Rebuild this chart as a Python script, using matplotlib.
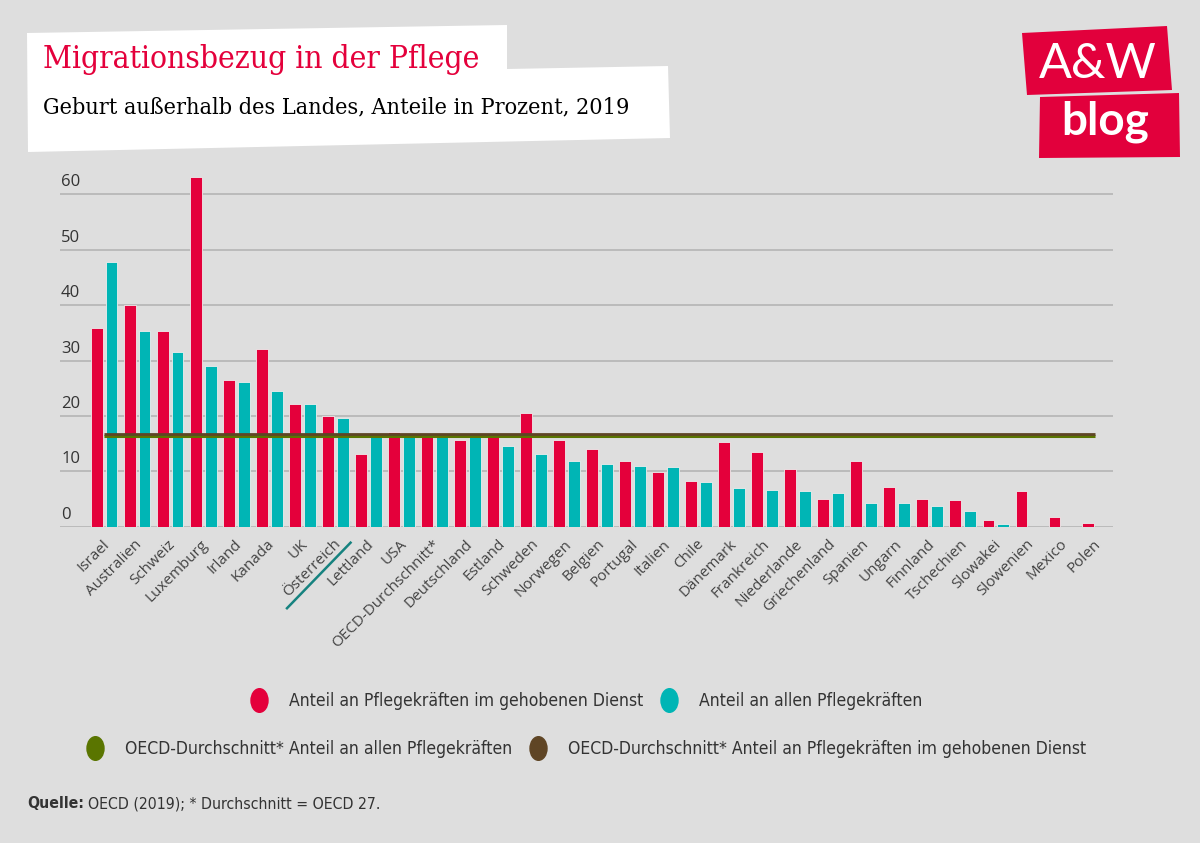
import matplotlib
matplotlib.use("Agg")
import matplotlib.pyplot as plt
import matplotlib.transforms as mtransforms
import numpy as np
from matplotlib import font_manager
from matplotlib.lines import Line2D
from matplotlib.patches import Polygon
from matplotlib.path import Path

# Daten
laender = ["Israel", "Australien", "Schweiz", "Luxemburg", "Irland", "Kanada", "UK",
           "Österreich", "Lettland", "USA", "OECD-Durchschnitt*", "Deutschland", "Estland",
           "Schweden", "Norwegen", "Belgien", "Portugal", "Italien", "Chile", "Dänemark",
           "Frankreich", "Niederlande", "Griechenland", "Spanien", "Ungarn", "Finnland",
           "Tschechien", "Slowakei", "Slowenien", "Mexico", "Polen"]
gehoben = [35.9, 40.0, 35.4, 63.1, 26.5, 32.1, 22.1, 19.9, 13.1, 17.1, 16.6, 15.6, 16.5,
           20.5, 15.6, 14.0, 11.9, 9.9, 8.3, 15.3, 13.5, 10.4, 5.0, 11.9, 7.2, 5.0,
           4.8, 1.2, 6.4, 1.8, 0.7]
alle = [47.8, 35.4, 31.6, 29.1, 26.2, 24.5, 22.1, 19.7, 16.2, 16.2, 16.3, 16.3, 14.6,
        13.1, 11.9, 11.3, 11.0, 10.7, 8.0, 6.9, 6.7, 6.4, 6.1, 4.2, 4.2, 3.7,
        2.8, 0.4, 0.0, 0.0, 0.0]
oecd_alle = 16.3
oecd_gehoben = 16.65
yticks = [0, 10, 20, 30, 40, 50, 60]

ROT = "#E4003B"
TEAL = "#00B5B5"
GRUEN = "#5A7500"
BRAUN = "#5F4525"
BG = "#DEDEDE"
TXT = "#333333"


def hat_condensed(fam):
    f = font_manager.findfont(font_manager.FontProperties(family=fam, stretch="condensed"))
    return "ondensed" in f


if hat_condensed("DejaVu Sans"):
    SANS = dict(family="DejaVu Sans", stretch="condensed")
else:
    SANS = dict(family="Liberation Sans")
if hat_condensed("DejaVu Serif"):
    SERIF = dict(family="DejaVu Serif", stretch="condensed")
else:
    SERIF = dict(family="DejaVu Serif")

W, H = 1200, 843
fig = plt.figure(figsize=(W / 100, H / 100), dpi=100, facecolor=BG)
fig.canvas.draw()
r = fig.canvas.get_renderer()


def px(x, y):
    return (x / W, 1 - y / H)


def passende_groesse(s, ziel_px, groesse=12, **kw):
    t = fig.text(0, 0, s, fontsize=groesse, **kw)
    w = t.get_window_extent(r).width
    t.remove()
    return groesse * ziel_px / w


ax = fig.add_axes([60 / W, 1 - 526.7 / H, 1053 / W, 365.6 / H])
ax.set_facecolor(BG)

x = np.arange(len(laender))
ax.bar(x - 0.225, gehoben, width=0.36, color=ROT, edgecolor="#EEEEEE", linewidth=0.6, zorder=3)
ax.bar(x + 0.225, alle, width=0.36, color=TEAL, edgecolor="#EEEEEE", linewidth=0.6, zorder=3)

ax.plot([x[0], x[-1]], [oecd_alle, oecd_alle], color=GRUEN, lw=2.2, solid_capstyle="butt", zorder=4)
ax.plot([x[0], x[-1]], [oecd_gehoben, oecd_gehoben], color=BRAUN, lw=2.0, solid_capstyle="butt", zorder=5)

ax.set_xlim(-1.333, len(laender) - 1 + 0.545)
ax.set_ylim(0, 66)
for s in ax.spines.values():
    s.set_visible(False)

ax.set_yticks(yticks)
ax.set_yticklabels([])
ax.tick_params(axis="y", length=0)
ax.grid(axis="y", color="#BBBBBB", linewidth=1.4, zorder=0)
ax.set_axisbelow(True)

# y-Beschriftung oberhalb der Gitterlinien
for v in yticks:
    ax.text(0.001, v + 0.7, str(v), transform=ax.get_yaxis_transform(), ha="left", va="bottom",
            fontsize=12, color=TXT, family="Open Sans")

ax.set_xticks(x)
ax.set_xticklabels(laender, family="Open Sans", fontsize=11, color="#444444")
ax.tick_params(axis="x", length=0, pad=11)
shift = mtransforms.ScaledTranslation(3 / 100, 0, fig.dpi_scale_trans)
for lbl in ax.get_xticklabels():
    lbl.set_rotation(45)
    lbl.set_ha("right")
    lbl.set_va("center")
    lbl.set_rotation_mode("anchor")
    lbl.set_transform(lbl.get_transform() + shift)

# Titelbox
fig.add_artist(Polygon([px(27, 33), px(507, 25), px(507, 69), px(668, 66), px(670, 138), px(28, 152)],
                       closed=True, transform=fig.transFigure, facecolor="white", edgecolor="none"))
titel = "Migrationsbezug in der Pflege"
untertitel = "Geburt außerhalb des Landes, Anteile in Prozent, 2019"
fig.text(*px(43, 68), titel, color=ROT, fontsize=passende_groesse(titel, 440, **SERIF),
         va="baseline", ha="left", **SERIF)
fig.text(*px(43, 113), untertitel, color="black", fontsize=passende_groesse(untertitel, 587, **SERIF),
         va="baseline", ha="left", **SERIF)

# Logo
fig.add_artist(Polygon([px(1022, 33), px(1167, 26), px(1172, 90), px(1027, 95)], closed=True,
                       transform=fig.transFigure, facecolor="#E2003C", edgecolor="none"))
fig.add_artist(Polygon([px(1040, 97), px(1179, 93), px(1180, 157), px(1039, 158)], closed=True,
                       transform=fig.transFigure, facecolor="#E2003C", edgecolor="none"))
fig.text(*px(1098, 64), "A&W", color="white", fontsize=35, family="Lato", weight="normal",
         ha="center", va="center")
fig.text(*px(1105, 122), "blog", color="white", fontsize=33, family="Lato", weight="bold",
         ha="center", va="center")

# Legende
ell = Path.unit_circle().transformed(mtransforms.Affine2D().scale(0.72, 1.0))


def handle(c):
    return Line2D([], [], marker=ell, linestyle="none", markersize=17,
                  markerfacecolor=c, markeredgecolor=c)


leg_size = passende_groesse("Anteil an Pflegekräften im gehobenen Dienst", 354, **SANS)
leg_font = font_manager.FontProperties(size=leg_size, **SANS)
em = leg_size * 100 / 72
leg_kw = dict(loc="center", ncol=2, frameon=False, prop=leg_font, handlelength=1.2,
              handletextpad=(30 - 0.6 * em) / em, columnspacing=(26 - 0.6 * em) / em)
leg1 = fig.legend([handle(ROT), handle(TEAL)],
                  ["Anteil an Pflegekräften im gehobenen Dienst", "Anteil an allen Pflegekräften"],
                  bbox_to_anchor=(0.488, 1 - 701 / H), **leg_kw)
leg2 = fig.legend([handle(GRUEN), handle(BRAUN)],
                  ["OECD-Durchschnitt* Anteil an allen Pflegekräften",
                   "OECD-Durchschnitt* Anteil an Pflegekräften im gehobenen Dienst"],
                  bbox_to_anchor=(0.488, 1 - 749 / H), **leg_kw)
for lg in (leg1, leg2):
    for t in lg.get_texts():
        t.set_color(TXT)

# Quelle
q_size = passende_groesse("Quelle: OECD (2019); * Durchschnitt = OECD 27.", 346, **SANS)
q = fig.text(*px(27, 804), "Quelle:", fontsize=q_size, weight="bold",
             color=TXT, va="center", ha="left", **SANS)
fig.canvas.draw()
bb = q.get_window_extent(r)
fig.text(bb.x1 / W + 4 / W, 1 - 804 / H, "OECD (2019); * Durchschnitt = OECD 27.", fontsize=q_size,
         color=TXT, va="center", ha="left", **SANS)

# Österreich unterstreichen
for lbl in ax.get_xticklabels():
    if lbl.get_text() == "Österreich":
        b = lbl.get_window_extent(r)
        fig.add_artist(Line2D([(b.x0 + 7) / W, (b.x1 + 7) / W],
                              [(b.y0 - 8) / H, (b.y1 - 6) / H],
                              transform=fig.transFigure, color="#16827F", lw=1.8))

fig.savefig("out.png", dpi=100, facecolor=BG)
